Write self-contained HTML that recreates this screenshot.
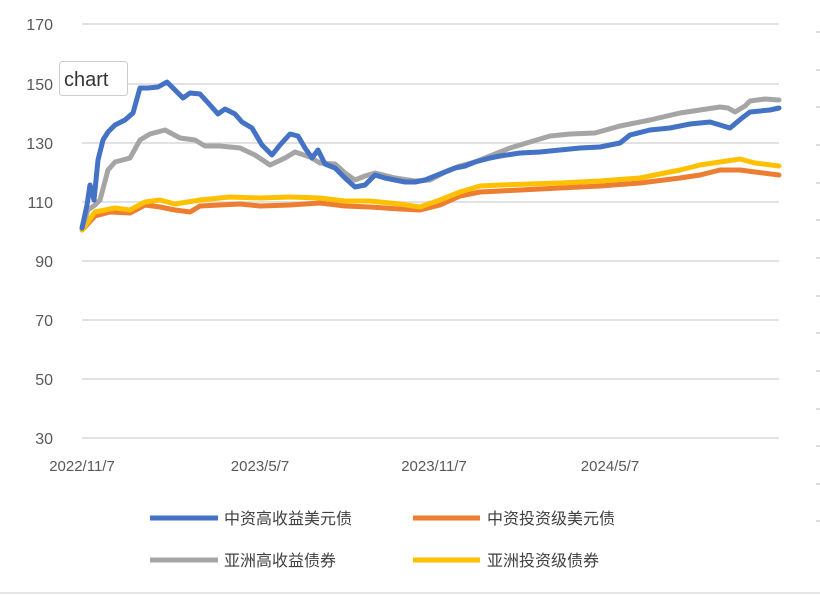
<!DOCTYPE html>
<html><head><meta charset="utf-8"><style>
body{margin:0;background:#fff;width:820px;height:596px;overflow:hidden;font-family:"Liberation Sans","Noto Sans CJK SC",sans-serif}
</style></head><body>
<svg width="820" height="596" xmlns="http://www.w3.org/2000/svg" style="position:absolute;left:0;top:0">
<g stroke="#d9d9d9" stroke-width="1.5">
<line x1="82" y1="24" x2="779" y2="24"/><line x1="82" y1="84" x2="779" y2="84"/>
<line x1="82" y1="143" x2="779" y2="143"/><line x1="82" y1="202" x2="779" y2="202"/>
<line x1="82" y1="261" x2="779" y2="261"/><line x1="82" y1="320" x2="779" y2="320"/>
<line x1="82" y1="379" x2="779" y2="379"/><line x1="82" y1="438" x2="779" y2="438"/>
</g>
<g stroke="#bbb" stroke-width="1">
<line x1="816" y1="32" x2="820" y2="32"/><line x1="816" y1="70" x2="820" y2="70"/><line x1="816" y1="107" x2="820" y2="107"/><line x1="816" y1="145" x2="820" y2="145"/><line x1="816" y1="183" x2="820" y2="183"/><line x1="816" y1="220" x2="820" y2="220"/><line x1="816" y1="258" x2="820" y2="258"/><line x1="816" y1="296" x2="820" y2="296"/><line x1="816" y1="333" x2="820" y2="333"/><line x1="816" y1="371" x2="820" y2="371"/><line x1="816" y1="409" x2="820" y2="409"/><line x1="816" y1="446" x2="820" y2="446"/><line x1="816" y1="484" x2="820" y2="484"/><line x1="816" y1="521" x2="820" y2="521"/>
<line x1="0" y1="593" x2="820" y2="593" stroke="#ccc"/>
</g>
<g font-size="16" fill="#595959" text-anchor="end">
<text x="53" y="30">170</text><text x="53" y="90">150</text><text x="53" y="149">130</text><text x="53" y="208">110</text><text x="53" y="267">90</text><text x="53" y="326">70</text><text x="53" y="385">50</text><text x="53" y="444">30</text>
</g>
<g font-size="15" fill="#595959" text-anchor="middle">
<text x="82" y="471">2022/11/7</text><text x="260" y="471">2023/5/7</text><text x="434" y="471">2023/11/7</text><text x="610" y="471">2024/5/7</text>
</g>
<g fill="none" stroke-width="5" stroke-linejoin="round" stroke-linecap="round">
<polyline stroke="#ed7d31" points="82,230 95,216 110,212 130,213 145,205 160,207 175,210 190,212 200,206 220,205 240,204 260,206 290,205 320,203 345,206 370,207 400,209 420,210 440,205 460,196 480,192 500,191 520,190 560,188 600,186 640,183 680,178 700,175 720,170 740,170 755,172 779,175"/>
<polyline stroke="#ffc000" points="82,230 95,212 115,208 130,210 145,202 160,200 175,204 200,200 230,197 260,198 290,197 320,198 345,201 370,201 400,204 420,207 440,200 460,192 480,186 500,185 530,184 560,183 600,181 640,178 680,170 700,165 720,162 740,159 755,163 779,166"/>
<polyline stroke="#a5a5a5" points="82,228 88,210 95,205 100,200 108,170 115,162 130,158 140,140 150,134 165,130 180,138 195,140 205,146 220,146 240,148 255,155 270,165 285,158 295,152 310,157 320,163 335,164 345,173 355,180 365,176 375,173 395,178 415,181 430,180 445,172 460,166 475,162 490,156 510,148 530,142 550,136 570,134 595,133 620,126 650,120 680,113 700,110 720,107 728,108 735,112 745,106 750,101 765,99 779,100"/>
<polyline stroke="#4472c4" points="82,228 87,205 90,185 94,200 98,160 103,140 108,132 115,125 125,120 133,113 138,95 140,88 148,88 158,87 167,82 175,90 183,98 190,93 200,94 210,105 218,114 225,109 235,114 242,122 252,128 262,145 272,155 280,145 290,134 298,136 305,148 312,158 318,150 325,164 335,168 345,178 355,187 365,185 375,175 385,178 395,180 405,182 415,182 425,180 435,176 445,172 455,168 465,166 475,162 490,158 500,156 520,153 540,152 560,150 580,148 600,147 620,143 630,135 650,130 670,128 690,124 710,122 730,128 742,118 750,112 770,110 779,108"/>
</g>
<g stroke-width="5">
<line x1="150" y1="518" x2="218" y2="518" stroke="#4472c4"/>
<line x1="413" y1="518" x2="480" y2="518" stroke="#ed7d31"/>
<line x1="150" y1="560" x2="218" y2="560" stroke="#a5a5a5"/>
<line x1="413" y1="560" x2="480" y2="560" stroke="#ffc000"/>
</g>
<g font-size="16" fill="#404040">
<text x="224" y="524">中资高收益美元债</text><text x="487" y="524">中资投资级美元债</text>
<text x="224" y="566">亚洲高收益债券</text><text x="487" y="566">亚洲投资级债券</text>
</g>
<rect x="59.5" y="61.5" width="68" height="34" rx="3" fill="#fff" stroke="#ccc"/>
<text x="64" y="86" font-size="20" fill="#333">chart</text>
</svg>
</body></html>
